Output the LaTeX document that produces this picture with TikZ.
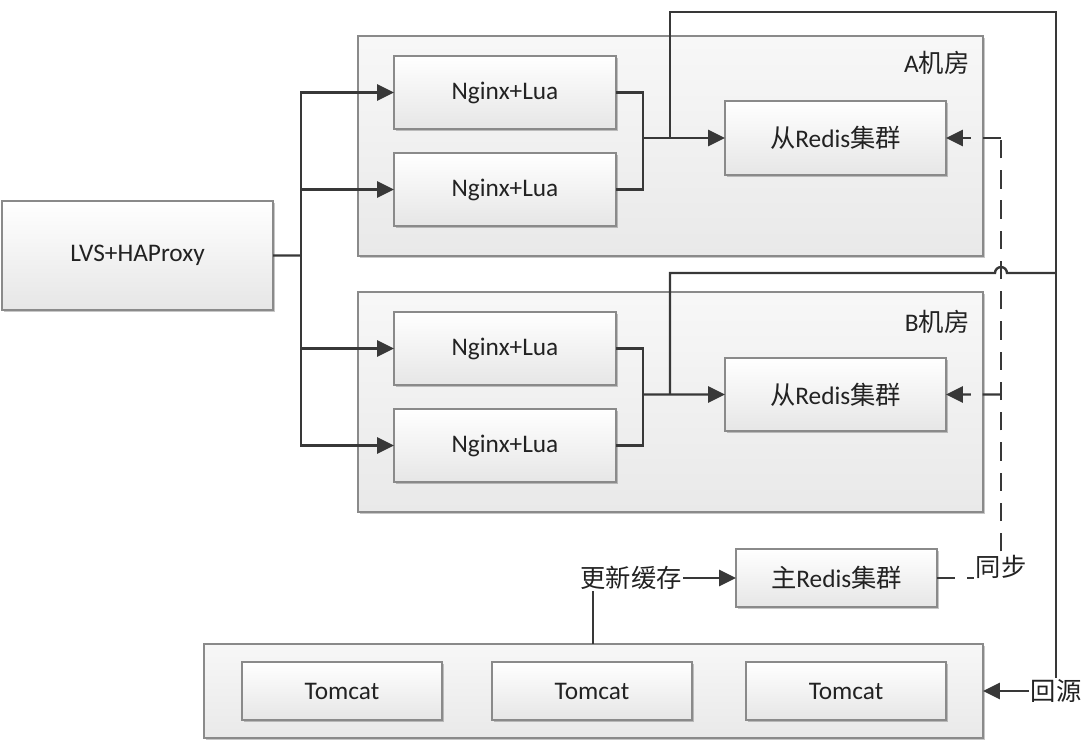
\documentclass[tikz,border=0pt]{standalone}
\usepackage{fontspec}
\setmainfont{Carlito}
\newfontfamily\cjk{Noto Sans CJK SC}
\usetikzlibrary{arrows.meta,shadows,fit,calc}
\definecolor{linec}{HTML}{383838}
\definecolor{boxgray}{HTML}{8A8A8A}
\definecolor{boxbot}{HTML}{E6E6E6}
\definecolor{conbot}{HTML}{E9E9E9}
\definecolor{txt}{HTML}{222222}
\newcommand{\lblfont}{\fontsize{18}{22}\selectfont}
\tikzset{
  shad/.style={drop shadow={shadow xshift=1.6pt, shadow yshift=-1.6pt, opacity=0.22, fill=black}},
  box/.style={draw=boxgray, line width=0.9pt, top color=white, bottom color=boxbot,
     inner sep=0pt, outer sep=0pt, shad, font=\lblfont, text=txt},
  con/.style={draw=boxgray, line width=0.9pt, top color=white!97!black, bottom color=conbot,
     inner sep=0pt, outer sep=0pt, shad},
  lbl/.style={font=\lblfont, text=txt, inner sep=1pt},
  conn/.style={draw=linec, line width=1.7pt},
  tip/.style={-{Triangle[length=12pt,width=11.5pt]}},
  arr/.style={conn, tip},
  dconn/.style={conn, dash pattern=on 13pt off 8.5pt},
}
\begin{document}
\begin{tikzpicture}[x=0.025cm, y=-0.025cm]
\useasboundingbox (0,0) rectangle (1092,745);
% containers
\node[con, fit={(358,36)(983,256)}] (conA) {};
\node[con, fit={(358,292)(983,512)}] (conB) {};
\node[con, fit={(204,644)(983,738)}] (tcon) {};
% boxes
\node[box, fit={(2,201)(273,310)}] (lvs) {};
\node[lbl] at (lvs) {LVS+HAProxy};
\node[box, fit={(394,56)(616,129)}] (nA1) {};
\node[lbl] at (nA1) {Nginx+Lua};
\node[box, fit={(394,153)(616,226)}] (nA2) {};
\node[lbl] at (nA2) {Nginx+Lua};
\node[box, fit={(394,312)(616,385)}] (nB1) {};
\node[lbl] at (nB1) {Nginx+Lua};
\node[box, fit={(394,409)(616,482)}] (nB2) {};
\node[lbl] at (nB2) {Nginx+Lua};
\node[box, fit={(725,101)(946,175)}] (rA) {};
\node[lbl] at (rA) {{\cjk 从}Redis{\cjk 集群}};
\node[box, fit={(725,358)(946,431)}] (rB) {};
\node[lbl] at (rB) {{\cjk 从}Redis{\cjk 集群}};
\node[box, fit={(736,549)(937,607)}] (master) {};
\node[lbl] at (master) {{\cjk 主}Redis{\cjk 集群}};
\node[box, fit={(242,662)(442,720)}] (t1) {};
\node[lbl] at (t1) {Tomcat};
\node[box, fit={(492,662)(692,720)}] (t2) {};
\node[lbl] at (t2) {Tomcat};
\node[box, fit={(746,662)(946,720)}] (t3) {};
\node[lbl] at (t3) {Tomcat};
% container labels
\node[lbl, anchor=east] (labA) at (971,63) {A{\cjk 机房}};
\node[lbl, anchor=east] (labB) at (971,322) {B{\cjk 机房}};
\node[lbl] (upd) at (631,578) {\cjk 更新缓存};
% coordinates
\coordinate (sp) at (301,255.5);
\coordinate (mA) at (643,138);
\coordinate (mB) at (643,394.5);
\coordinate (jA) at (670,138);
\coordinate (jB) at (670,394.5);
\coordinate (tr) at (1056,12);
\coordinate (jR) at (1056,273);
\coordinate (sc) at (1001,578);
\coordinate (dA) at (1001,138);
\coordinate (dB) at (1001,394.5);
\coordinate (ut) at (593,644);
% LVS fan-out
\draw[conn] (lvs.east) -- (sp);
\draw[arr] (sp) |- (nA1.west);
\draw[arr] (sp) |- (nA2.west);
\draw[arr] (sp) |- (nB1.west);
\draw[arr] (sp) |- (nB2.west);
% merges
\draw[conn] (nA1.east) -| (mA);
\draw[conn] (nA2.east) -| (mA);
\draw[arr] (mA) -- (rA.west);
\draw[conn] (nB1.east) -| (mB);
\draw[conn] (nB2.east) -| (mB);
\draw[arr] (mB) -- (rB.west);
% sync dashed
\draw[dconn] (master.east) -- (sc) -- (dA);
\draw[dconn, tip] (dA) -- (rA.east);
\draw[dconn, tip] (dB) -- (rB.east);
% back-to-source lines
\node[lbl, fill=white] (back) at (1056,691) {\cjk 回源};
\draw[conn] (jA) |- (tr) -- (back.north);
\draw[conn] (jB) |- (995,273) arc[start angle=180, end angle=0, radius=4.25pt] -- (jR);
\draw[arr] (back.west) -- (tcon.east);
% update cache
\draw[arr] (upd.east) -- (master.west);
\draw[conn] (ut |- upd.south) -- (ut);
\node[lbl, fill=white] (sync) at (1001,567) {\cjk 同步};
\end{tikzpicture}
\end{document}
